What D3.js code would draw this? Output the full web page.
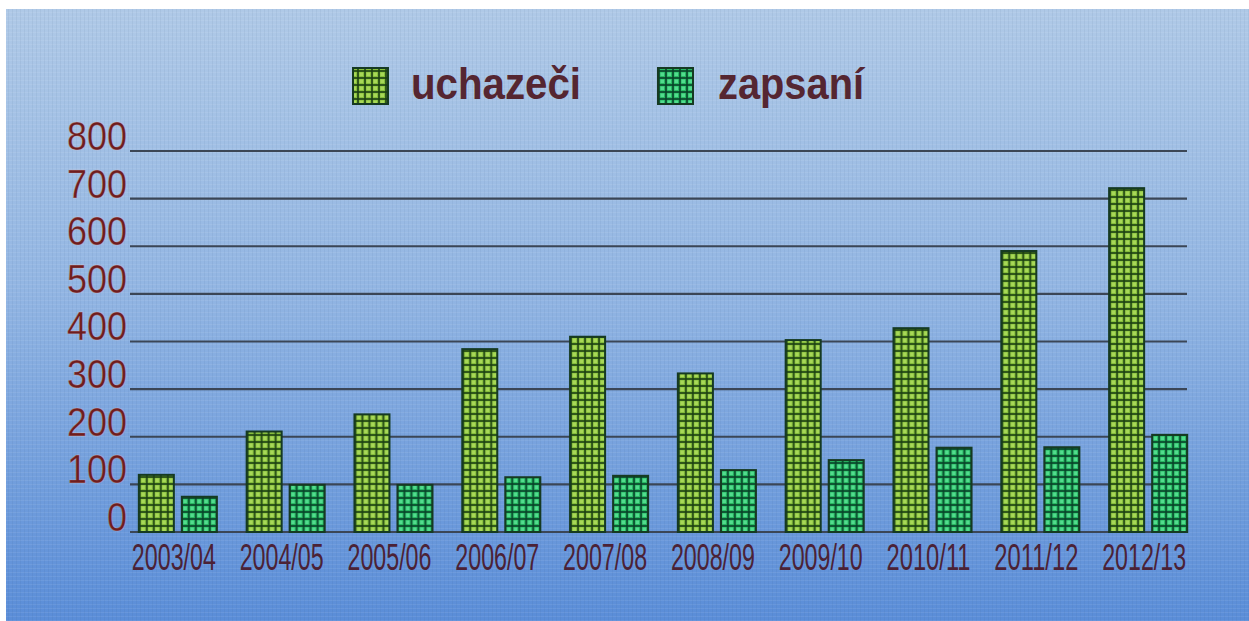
<!DOCTYPE html>
<html>
<head>
<meta charset="utf-8">
<script src="https://cdnjs.cloudflare.com/ajax/libs/d3/7.8.5/d3.min.js"></script>
<style>
  html, body { margin: 0; padding: 0; background: #ffffff; }
  svg { display: block; }
</style>
</head>
<body>
<svg id="chart" width="1249" height="621"></svg>
<script>
// ---- data ----
const categories = ["2003/04","2004/05","2005/06","2006/07","2007/08","2008/09","2009/10","2010/11","2011/12","2012/13"];
const seriesNames = ["uchazeči", "zapsaní"];
const uchazeci = [120, 211, 247, 384, 410, 333, 403, 428, 590, 722];
const zapsani  = [74, 99, 99, 115, 118, 130, 151, 177, 178, 204];
const yTicks = [0, 100, 200, 300, 400, 500, 600, 700, 800];

const W = 1249, H = 621;
const svg = d3.select("#chart");
const defs = svg.append("defs");

// background gradient
const bg = defs.append("linearGradient").attr("id", "bg").attr("x1", 0).attr("y1", 0).attr("x2", 0).attr("y2", 1);
bg.append("stop").attr("offset", "0%").attr("stop-color", "#afc9e7");
bg.append("stop").attr("offset", "45%").attr("stop-color", "#93b6e3");
bg.append("stop").attr("offset", "100%").attr("stop-color", "#5a8dd8");

// subtle canvas texture
const tex = defs.append("pattern").attr("id", "tex").attr("patternUnits", "userSpaceOnUse")
  .attr("width", 4).attr("height", 4);
tex.append("rect").attr("x", 0).attr("y", 0).attr("width", 4).attr("height", 1).attr("fill", "rgba(255,255,255,0.07)");
tex.append("rect").attr("x", 0).attr("y", 0).attr("width", 1).attr("height", 4).attr("fill", "rgba(40,60,110,0.06)");

// plaid patterns for bars
function plaid(id, base, light, dark) {
  const p = defs.append("pattern").attr("id", id).attr("patternUnits", "userSpaceOnUse")
    .attr("width", 7).attr("height", 7);
  p.append("rect").attr("width", 7).attr("height", 7).attr("fill", base);
  p.append("rect").attr("x", 2.5).attr("y", 2.5).attr("width", 3.5).attr("height", 3.5).attr("fill", light);
  p.append("rect").attr("x", 0).attr("y", 0).attr("width", 7).attr("height", 2).attr("fill", dark).attr("opacity", 0.8);
  p.append("rect").attr("x", 0).attr("y", 0).attr("width", 2).attr("height", 7).attr("fill", dark).attr("opacity", 0.8);
}
plaid("pu", "#86bf3b", "#a8d858", "#1a3f12");
plaid("pz", "#28b862", "#52dc8e", "#074128");

const fills = { "uchazeči": "url(#pu)", "zapsaní": "url(#pz)" };

// background (white frame on top and left)
svg.append("rect").attr("x", 0).attr("y", 0).attr("width", W).attr("height", H).attr("fill", "#ffffff");
svg.append("rect").attr("x", 6).attr("y", 9).attr("width", W - 6).attr("height", H - 9).attr("fill", "url(#bg)");
svg.append("rect").attr("x", 6).attr("y", 9).attr("width", W - 6).attr("height", H - 9).attr("fill", "url(#tex)");

// scales
const y = d3.scaleLinear().domain([0, 800]).range([532, 151]);
const x0 = d3.scaleBand().domain(categories).range([126, 1200]).paddingInner(0.276).paddingOuter(0.119);
const x1 = d3.scaleBand().domain(seriesNames).range([0, x0.bandwidth()]).paddingInner(0.186).paddingOuter(0);

// gridlines
const grid = svg.append("g");
grid.selectAll("line").data(yTicks).join("line")
  .attr("x1", 130).attr("x2", 1187)
  .attr("y1", d => y(d)).attr("y2", d => y(d))
  .attr("stroke", "#3b4656").attr("stroke-width", 2.2);

// y axis labels
const yAxis = d3.axisLeft(y).tickValues(yTicks).tickSize(0).tickPadding(0);
const gy = svg.append("g").attr("transform", "translate(127,0)").call(yAxis);
gy.select(".domain").remove();
gy.selectAll("text")
  .attr("dy", "-0.04em")
  .attr("y", 0)
  .style("dominant-baseline", "auto")
  .attr("font-family", "Liberation Sans, Arial, sans-serif")
  .attr("font-size", 41)
  .attr("fill", "#6e1d1f")
  .attr("stroke", "rgba(230,200,200,0.35)")
  .attr("stroke-width", 0.8)
  .attr("textLength", d => String(d).length * 20)
  .attr("lengthAdjust", "spacingAndGlyphs");

// bars
const rows = categories.map((c, i) => ({ cat: c, vals: [
  { key: "uchazeči", v: uchazeci[i] }, { key: "zapsaní", v: zapsani[i] } ] }));
const groups = svg.append("g").selectAll("g").data(rows).join("g")
  .attr("transform", d => `translate(${x0(d.cat)},0)`);
groups.selectAll("rect").data(d => d.vals).join("rect")
  .attr("x", d => x1(d.key))
  .attr("y", d => y(d.v))
  .attr("width", x1.bandwidth())
  .attr("height", d => y(0) - y(d.v))
  .attr("fill", d => fills[d.key])
  .attr("stroke", "#163a22")
  .attr("stroke-width", 2);

// x axis labels (narrow, vertically stretched)
const xAxis = d3.axisBottom(x0).tickSize(0).tickPadding(0);
const gx = svg.append("g").attr("transform", "translate(-4,0)").call(xAxis);
gx.select(".domain").remove();
gx.selectAll(".tick").each(function() {
  const t = d3.select(this);
  const tr = t.attr("transform");
  const tx = +tr.match(/translate\(([-\d.]+)/)[1];
  t.attr("transform", `translate(${tx},570) scale(1,1.22)`);
});
gx.selectAll("text")
  .attr("y", 0).attr("dy", 0)
  .attr("font-family", "Liberation Sans Narrow, Liberation Sans, Arial, sans-serif")
  .attr("font-size", 30)
  .attr("fill", "#4b2236")
  .attr("textLength", 84)
  .attr("lengthAdjust", "spacingAndGlyphs");

// legend
const legend = svg.append("g");
const legendItems = [
  { key: "uchazeči", sx: 353, tx: 411, tl: 170 },
  { key: "zapsaní",  sx: 658, tx: 718, tl: 146 }
];
legendItems.forEach(it => {
  legend.append("rect").attr("x", it.sx).attr("y", 68).attr("width", 35).attr("height", 36)
    .attr("fill", fills[it.key]).attr("stroke", "#163a22").attr("stroke-width", 2);
  legend.append("text").attr("x", it.tx).attr("y", 99)
    .attr("font-family", "Liberation Sans, Arial, sans-serif")
    .attr("font-weight", "bold")
    .attr("font-size", 44)
    .attr("fill", "#552631")
    .attr("textLength", it.tl)
    .attr("lengthAdjust", "spacingAndGlyphs")
    .text(it.key);
});
</script>
</body>
</html>
